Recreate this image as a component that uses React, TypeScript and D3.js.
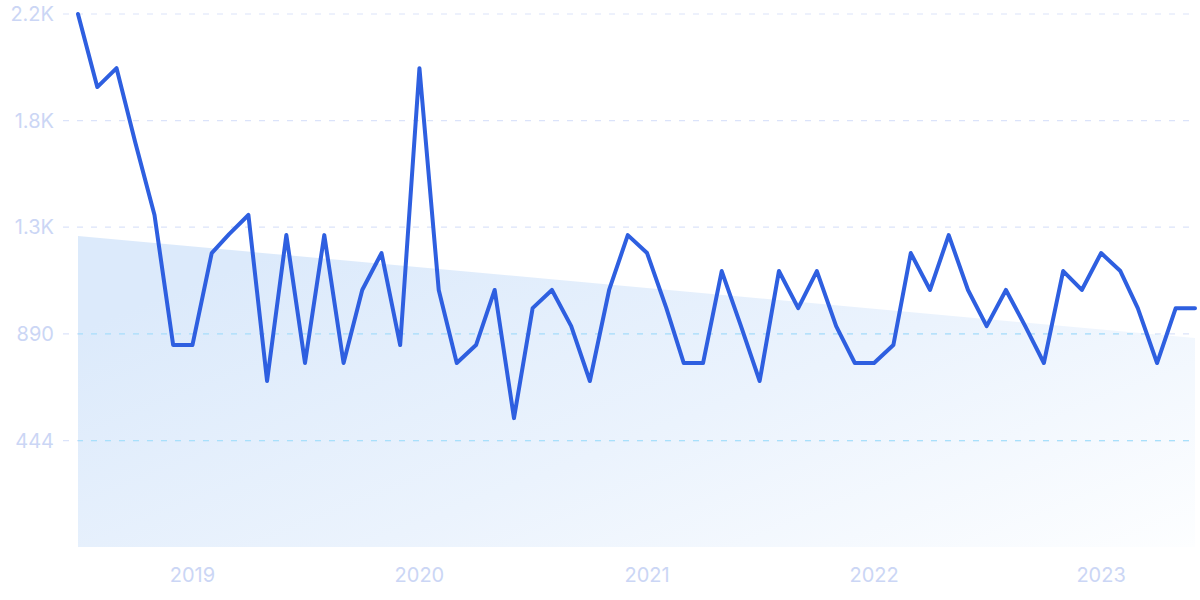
import React from 'react';
import * as d3 from 'd3';

// monthly values, Jul 2018 .. Jun 2023
const startMonth = new Date(2018, 6, 1);
const values = [
  2225, 1920, 1999, 1690, 1386, 843,
  843, 1227, 1306, 1386, 693, 1302, 768, 1302, 768, 1073, 1227, 843,
  1999, 1073, 768, 843, 1073, 538, 997, 1073, 922, 693, 1073, 1302,
  1227, 997, 768, 768, 1152, 922, 693, 1152, 997, 1152, 922, 768,
  768, 843, 1227, 1073, 1302, 1073, 922, 1073, 922, 768, 1152, 1073,
  1227, 1152, 997, 768, 997, 997,
];
const yTicks = [444, 890, 1335, 1780, 2225];
const yTickLabels = ['444', '890', '1.3K', '1.8K', '2.2K'];
const yearTicks = [2019, 2020, 2021, 2022, 2023];
// trend band under the line (start, end)
const trend = [1298, 872];

const W = 1200;
const H = 600;

const App: React.FC = () => {
  const dates = values.map((_, i) => d3.timeMonth.offset(startMonth, i));
  const data = values.map((v, i) => ({ date: dates[i], value: v }));

  const x = d3.scaleTime()
    .domain([dates[0], dates[dates.length - 1]])
    .range([78, 1195]);
  const y = d3.scaleLinear().domain([0, 2225]).range([547, 14]);

  const line = d3.line<{ date: Date; value: number }>()
    .x(d => x(d.date))
    .y(d => y(d.value))
    .curve(d3.curveLinear);

  const trendPts = [
    { date: dates[0], value: trend[0] },
    { date: dates[dates.length - 1], value: trend[1] },
  ];
  const area = d3.area<{ date: Date; value: number }>()
    .x(d => x(d.date))
    .y0(y(0))
    .y1(d => y(d.value));
  const areaPath = area(trendPts) || '';

  const font = 'Inter, "Noto Sans", sans-serif';

  return (
    <svg width={W} height={H} style={{ position: 'absolute', left: 0, top: 0, background: '#fff' }}>
      <defs>
        <linearGradient id="bandFill" x1="0" y1="0.3" x2="1" y2="1">
          <stop offset="0%" stopColor="#dceafb" />
          <stop offset="50%" stopColor="#ebf3fd" />
          <stop offset="100%" stopColor="#fdfeff" />
        </linearGradient>
        <clipPath id="bandClip">
          <path d={areaPath} />
        </clipPath>
      </defs>

      <path d={areaPath} fill="url(#bandFill)" />

      <g>
        {yTicks.map(t => (
          <line key={t} x1={63} x2={1195} y1={y(t)} y2={y(t)}
            stroke="#dbe3fa" strokeWidth={1.2} strokeDasharray="6 8" />
        ))}
      </g>
      <g clipPath="url(#bandClip)">
        {yTicks.map(t => (
          <line key={t} x1={63} x2={1195} y1={y(t)} y2={y(t)}
            stroke="#a8e0fb" strokeWidth={1.2} strokeDasharray="6 8" />
        ))}
      </g>

      <g fontFamily={font} fontSize={20} fill="#cbd6f5">
        {yTicks.map((t, i) => (
          <text key={t} x={54} y={y(t)} dy="0.35em" textAnchor="end">{yTickLabels[i]}</text>
        ))}
        {yearTicks.map(yr => (
          <text key={yr} x={x(new Date(yr, 0, 1))} y={582} textAnchor="middle">{yr}</text>
        ))}
      </g>

      <path d={line(data) || ''} fill="none" stroke="#2e5fe0" strokeWidth={4}
        strokeLinejoin="round" strokeLinecap="round" />
    </svg>
  );
};

export default App;
